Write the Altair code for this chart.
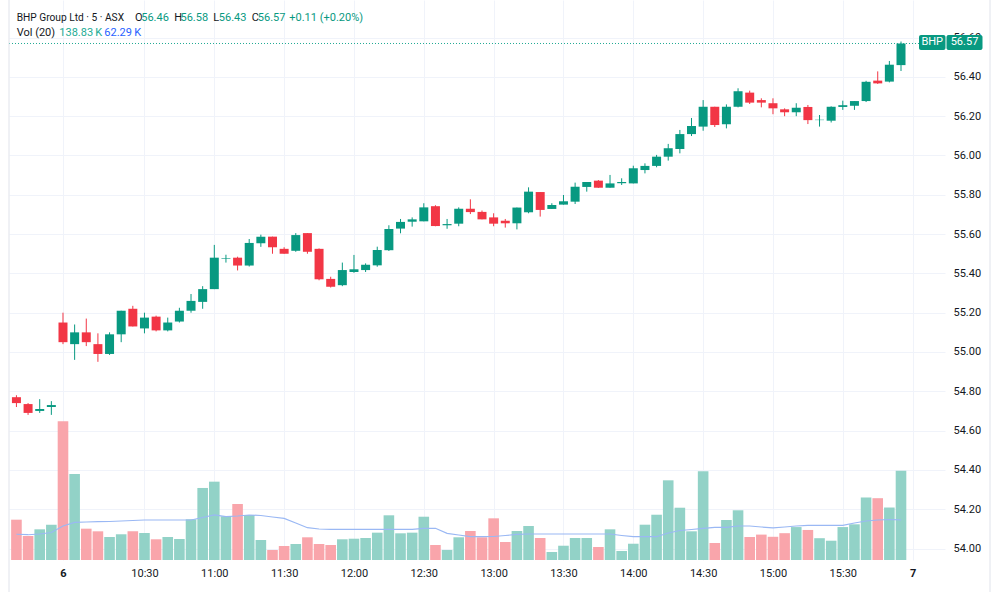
import altair as alt
import pandas as pd

# ---- data (5-minute bars, BHP, ASX) ----
opens = [54.77, 54.735, 54.70, 54.72, 55.15, 55.04, 55.10, 55.04, 54.99, 55.09,
         55.22, 55.12, 55.18, 55.11, 55.155, 55.21, 55.255, 55.32, 55.474, 55.48,
         55.44, 55.553, 55.587, 55.525, 55.515, 55.605, 55.525, 55.372, 55.34, 55.407,
         55.417, 55.441, 55.518, 55.628, 55.663, 55.665, 55.742, 55.645, 55.653, 55.729,
         55.713, 55.685, 55.668, 55.655, 55.711, 55.814, 55.728, 55.75, 55.765, 55.84,
         55.872, 55.836, 55.859, 55.858, 55.926, 55.947, 55.994, 56.033, 56.109, 56.147,
         56.248, 56.159, 56.248, 56.32, 56.282, 56.266, 56.235, 56.22, 56.247, 56.18,
         56.177, 56.247, 56.253, 56.277, 56.381, 56.376, 56.46]
highs = [54.78, 54.74, 54.76, 54.75, 55.20, 55.14, 55.17, 55.095, 55.10, 55.21,
         55.235, 55.20, 55.185, 55.175, 55.225, 55.295, 55.335, 55.545, 55.495, 55.485,
         55.575, 55.597, 55.587, 55.533, 55.605, 55.605, 55.527, 55.383, 55.455, 55.494,
         55.451, 55.536, 55.645, 55.677, 55.685, 55.757, 55.747, 55.677, 55.736, 55.777,
         55.72, 55.706, 55.677, 55.735, 55.838, 55.814, 55.757, 55.799, 55.862, 55.865,
         55.875, 55.901, 55.884, 55.948, 55.96, 56.003, 56.059, 56.13, 56.191, 56.282,
         56.248, 56.26, 56.342, 56.33, 56.291, 56.291, 56.24, 56.266, 56.257, 56.206,
         56.25, 56.279, 56.277, 56.38, 56.428, 56.481, 56.58]
lows = [54.72, 54.68, 54.69, 54.68, 55.04, 54.96, 55.03, 54.95, 54.985, 55.05,
        55.13, 55.095, 55.105, 55.105, 55.15, 55.20, 55.22, 55.32, 55.455, 55.415,
        55.435, 55.535, 55.50, 55.50, 55.51, 55.50, 55.365, 55.328, 55.335, 55.403,
        55.407, 55.434, 55.514, 55.604, 55.638, 55.665, 55.64, 55.627, 55.64, 55.702,
        55.675, 55.64, 55.633, 55.624, 55.706, 55.689, 55.728, 55.75, 55.753, 55.816,
        55.835, 55.836, 55.85, 55.858, 55.909, 55.94, 55.974, 56.011, 56.099, 56.126,
        56.145, 56.138, 56.245, 56.262, 56.245, 56.21, 56.20, 56.20, 56.16, 56.147,
        56.168, 56.232, 56.232, 56.272, 56.364, 56.372, 56.43]
closes = [54.74, 54.69, 54.71, 54.73, 55.05, 55.10, 55.05, 54.99, 55.09, 55.21,
          55.13, 55.175, 55.11, 55.15, 55.21, 55.26, 55.32, 55.48, 55.477, 55.44,
          55.555, 55.587, 55.533, 55.50, 55.595, 55.51, 55.37, 55.332, 55.417, 55.421,
          55.444, 55.519, 55.626, 55.662, 55.675, 55.736, 55.641, 55.651, 55.729, 55.712,
          55.675, 55.653, 55.655, 55.735, 55.816, 55.723, 55.748, 55.767, 55.841, 55.865,
          55.836, 55.858, 55.865, 55.935, 55.947, 55.994, 56.037, 56.109, 56.15, 56.248,
          56.155, 56.248, 56.327, 56.269, 56.269, 56.24, 56.22, 56.243, 56.18, 56.182,
          56.248, 56.256, 56.277, 56.375, 56.367, 56.462, 56.57]
volumes_k = [62.7, 37.3, 47.7, 54.9, 215.7, 133.7, 48.7, 44.6, 35.8, 40.0,
             44.6, 42.0, 32.2, 35.8, 32.7, 63.3, 112.0, 121.8, 68.0, 87.1,
             70.0, 31.1, 15.6, 21.8, 24.9, 35.3, 24.9, 23.3, 32.2, 33.1,
             34.2, 42.5, 69.5, 41.5, 42.5, 67.3, 23.3, 15.6, 35.3, 45.1,
             35.3, 64.8, 28.0, 45.1, 52.9, 34.2, 12.4, 22.2, 34.2, 34.2,
             20.2, 47.7, 14.0, 25.3, 54.9, 70.4, 123.9, 81.3, 44.6, 137.9,
             26.4, 62.2, 77.3, 35.8, 39.5, 36.1, 41.7, 51.2, 46.7, 33.9,
             30.0, 51.2, 55.5, 97.2, 96.1, 81.6, 138.83]
vol_ma_k = [40.0, 39.3, 40.4, 42.8, 52.9, 58.6, 59.1, 59.6, 59.9, 60.6,
            61.4, 62.2, 62.2, 62.2, 62.2, 62.2, 66.1, 70.0, 67.3, 68.4,
            70.0, 69.2, 66.9, 64.8, 57.5, 50.2, 48.2, 47.7, 47.7, 47.7,
            47.7, 47.7, 47.7, 47.7, 47.7, 49.3, 49.3, 41.5, 38.9, 36.2,
            36.2, 36.5, 38.1, 39.7, 40.4, 40.4, 40.4, 40.4, 40.4, 40.4,
            40.4, 40.4, 38.1, 36.2, 36.2, 36.2, 42.0, 45.9, 47.4, 49.3,
            50.8, 50.8, 52.9, 52.9, 51.3, 49.8, 51.3, 52.9, 53.8, 53.8,
            53.8, 53.8, 57.5, 60.6, 62.2, 63.0, 62.29]
tick_idx = [4, 11, 17, 23, 29, 35, 41, 47, 53, 59, 65, 71, 77]
tick_text = ["6", "10:30", "11:00", "11:30", "12:00", "12:30", "13:00",
             "13:30", "14:00", "14:30", "15:00", "15:30", "7"]
price_ticks = [54.0, 54.2, 54.4, 54.6, 54.8, 55.0, 55.2, 55.4, 55.6, 55.8,
               56.0, 56.2, 56.4, 56.6]
symbol = "BHP"
title_text = "BHP Group Ltd \u00b7 5 \u00b7 ASX"
change_text = "+0.11 (+0.20%)"

TEAL = "#089981"
RED = "#F23645"
VOL_UP = "#92D2C7"
VOL_DN = "#F9A5AB"
TXT = "#131722"
GRID = "#f0f3fa"
FONT = "Roboto"

n = len(closes)
df = pd.DataFrame({"i": list(range(n)), "open": opens, "high": highs,
                   "low": lows, "close": closes, "vol": volumes_k, "ma": vol_ma_k})
up = df["close"] >= df["open"]
df["ccol"] = [TEAL if u else RED for u in up]
df["vcol"] = [VOL_UP if u else VOL_DN for u in up]
last = df.iloc[[-1]].copy()
last["lbl"] = [f"{closes[-1]:.2f}"]
last["sym"] = [symbol]

x_dom = [-0.639, 79.78]
y_dom = [53.9415, 56.7913]
vol_dom = [0, 870.7]

label_expr = ("[" + ",".join(f"'{t}'" for t in tick_text) + "][indexof(["
              + ",".join(str(t) for t in tick_idx) + "], datum.value)]")

xscale = alt.Scale(domain=x_dom, nice=False, zero=False, padding=0)
X = alt.X("i:Q", scale=xscale, title=None,
          axis=alt.Axis(values=tick_idx, labelExpr=label_expr, grid=True,
                        gridColor=GRID, domain=False, ticks=False, tickSize=0,
                        labelFont=FONT, labelFontSize=11, labelColor=TXT,
                        labelPadding=7, labelFlush=False, labelAngle=0,
                        labelFontWeight={"condition": {"test": "datum.value == 4 || datum.value == 77",
                                                       "value": "bold"}, "value": "normal"}))
yscale = alt.Scale(domain=y_dom, nice=False, zero=False, padding=0)
yaxis = alt.Axis(orient="right", values=price_ticks, format=".2f", grid=True,
                 gridColor=GRID, domain=False, ticks=False, tickSize=0,
                 labelPadding=8, labelFont=FONT, labelFontSize=11,
                 labelColor=TXT, labelFlush=False, title=None)
vscale = alt.Scale(domain=vol_dom, nice=False, zero=True, padding=0)

base = alt.Chart(df)

# volume pane
vbars = base.mark_bar(size=10.6).encode(
    x=X, y=alt.Y("vol:Q", scale=vscale, axis=None),
    color=alt.Color("vcol:N", scale=None))
vma = base.mark_line(color="#9ab8f4", strokeWidth=1.2).encode(
    x=X, y=alt.Y("ma:Q", scale=vscale, axis=None))
volume = alt.layer(vbars, vma)

# price pane
wicks = base.mark_rule(strokeWidth=1).encode(
    x=X, y=alt.Y("low:Q", scale=yscale, axis=yaxis), y2="high:Q",
    color=alt.Color("ccol:N", scale=None))
bodies = base.mark_bar(size=9).encode(
    x=X, y=alt.Y("open:Q", scale=yscale, axis=yaxis), y2="close:Q",
    color=alt.Color("ccol:N", scale=None))
lc = alt.Chart(last)
pline = lc.mark_rule(color="#22ab94", strokeDash=[1, 2], strokeWidth=1).encode(
    y=alt.Y("close:Q", scale=yscale, axis=yaxis), x=alt.value(0), x2=alt.value(910))
box1 = lc.mark_rect(color=TEAL, cornerRadius=2, yOffset=-8.5, y2Offset=6.5).encode(
    y=alt.Y("close:Q", scale=yscale, axis=yaxis), y2="close:Q",
    x=alt.value(910), x2=alt.value(936.5))
box2 = lc.mark_rect(color=TEAL, cornerRadius=2, yOffset=-8.5, y2Offset=6.5).encode(
    y=alt.Y("close:Q", scale=yscale, axis=yaxis), y2="close:Q",
    x=alt.value(937.5), x2=alt.value(973.5))
t1 = lc.mark_text(color="white", font=FONT, fontSize=11, align="center",
                  baseline="middle", dy=-1).encode(
    y=alt.Y("close:Q", scale=yscale, axis=yaxis), x=alt.value(923.2), text="sym:N")
t2 = lc.mark_text(color="white", font=FONT, fontSize=11, align="center",
                  baseline="middle", dy=-1).encode(
    y=alt.Y("close:Q", scale=yscale, axis=yaxis), x=alt.value(955.5), text="lbl:N")
price = alt.layer(wicks, bodies, pline, box1, box2, t1, t2)


def htext(s, x, y, color, size=11):
    return alt.Chart(pd.DataFrame({"t": [s]})).mark_text(
        align="left", baseline="alphabetic", font=FONT, fontSize=size,
        color=color).encode(
        x=alt.value(x), y=alt.value(y), text="t:N")


header = [
    htext(title_text, 7.7, 20.5, TXT, 10.2),
    htext("O", 126, 20.5, TXT), htext(f"{opens[-1]:.2f}", 132.2, 20.5, TEAL),
    htext("H", 165.3, 20.5, TXT), htext(f"{highs[-1]:.2f}", 171.5, 20.5, TEAL),
    htext("L", 204.3, 20.5, TXT), htext(f"{lows[-1]:.2f}", 209.8, 20.5, TEAL),
    htext("C", 242.7, 20.5, TXT), htext(f"{closes[-1]:.2f}", 248.8, 20.5, TEAL),
    htext(change_text, 280.3, 20.5, TEAL),
    htext("Vol (20)", 7.7, 35.5, TXT),
    htext(f"{volumes_k[-1]:.2f}\u2009K", 50.3, 35.5, "#22ab94"),
    htext(f"{vol_ma_k[-1]:.2f}\u2009K", 95.3, 35.5, "#2962ff"),
]

frame_df = pd.DataFrame({"k": [0]})
frame_l = alt.Chart(frame_df).mark_rule(color="#e0e3eb").encode(
    x=alt.value(0), y=alt.value(0), y2=alt.value(592))
frame_r = alt.Chart(frame_df).mark_rule(color="#e0e3eb").encode(
    x=alt.value(981), y=alt.value(0), y2=alt.value(592))

chart = alt.layer(volume, price, *header, frame_l, frame_r).resolve_scale(
    y="independent"
).properties(
    width=936, height=560,
    padding={"left": 9, "top": 0, "right": 55, "bottom": 32},
    autosize=alt.AutoSizeParams(type="none"),
    background="white",
).configure_view(stroke=None)

chart.save("out.html", embed_options={"renderer": "svg", "actions": False})
